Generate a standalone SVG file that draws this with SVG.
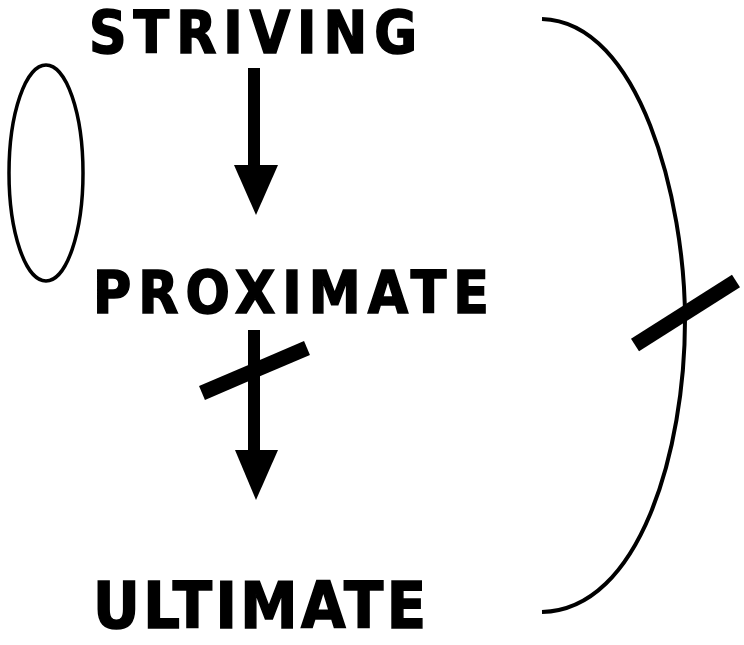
<svg xmlns="http://www.w3.org/2000/svg" width="744" height="645" viewBox="0 0 744 645">
<style>
.lbl{font-family:"DejaVu Sans Condensed","DejaVu Sans",sans-serif;font-weight:bold;fill:#000;stroke:#000;stroke-width:1.5}
.ln{fill:none;stroke:#000}
.slash{stroke:#000;stroke-width:15;stroke-linecap:butt}
</style>
<rect width="744" height="645" fill="#fff"/>
<g id="striving"><text class="lbl" x="89" y="53" font-size="58" textLength="328" lengthAdjust="spacing">STRIVING</text></g>
<g id="proximate"><text class="lbl" x="93" y="313" font-size="58" textLength="396" lengthAdjust="spacing">PROXIMATE</text></g>
<g id="ultimate"><text class="lbl" x="93" y="628" font-size="64" textLength="333" lengthAdjust="spacing">ULTIMATE</text></g>
<g id="loop"><ellipse class="ln" cx="46" cy="173" rx="37" ry="108" stroke-width="3.5"/></g>
<g id="connectors">
<rect x="248" y="68" width="12" height="100"/>
<polygon points="234,165 278,165 256,215"/>
<rect x="248" y="330" width="12" height="123"/>
<polygon points="235,450 278,450 256,500"/>
<line class="slash" x1="202" y1="393" x2="307" y2="348"/>
<path class="ln" stroke-width="4" d="M542,19 C640,22 685,200 685,320 C685,450 640,610 542,612"/>
<line class="slash" x1="635" y1="345" x2="736" y2="281"/>
</g>
</svg>
